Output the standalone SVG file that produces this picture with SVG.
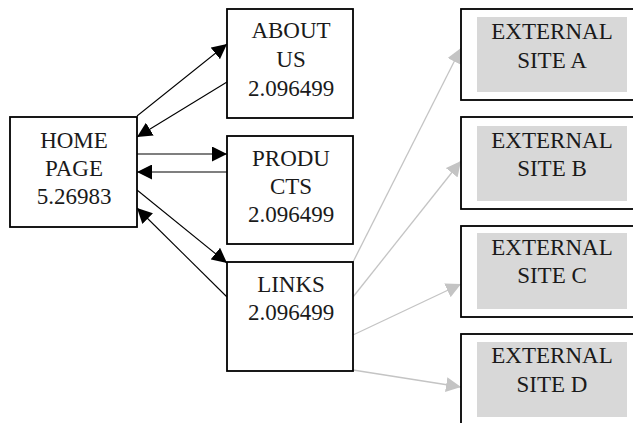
<svg xmlns="http://www.w3.org/2000/svg" width="633" height="423" viewBox="0 0 633 423">
<style>
.box{fill:#fff;stroke:#000;stroke-width:1.8}
.inner{fill:#d8d8d8;stroke:none}
.t{font-family:'Liberation Serif','DejaVu Serif',serif;font-size:23px;fill:#1a1a1a;text-anchor:middle}
.e{fill:none;stroke:#000;stroke-width:1.1}
.g{fill:none;stroke:#c4c4c4;stroke-width:1.3}
</style>
<defs>
<marker id="ab" viewBox="0 0 15 15" refX="15" refY="7.5" markerWidth="15" markerHeight="15" orient="auto" markerUnits="userSpaceOnUse"><path d="M0,0 L15,7.5 L0,15 z" fill="#000"/></marker>
<marker id="ag" viewBox="0 0 15 15" refX="15" refY="7.5" markerWidth="15" markerHeight="15" orient="auto" markerUnits="userSpaceOnUse"><path d="M0,0 L15,7.5 L0,15 z" fill="#c4c4c4"/></marker>
</defs>
<rect width="633" height="423" fill="#fff"/>
<g id="edges">
<path class="e" d="M137,116 L227,44" marker-end="url(#ab)"/>
<path class="e" d="M227,82 L137,137" marker-end="url(#ab)"/>
<path class="e" d="M137,154 L227,154" marker-end="url(#ab)"/>
<path class="e" d="M227,172 L137,172" marker-end="url(#ab)"/>
<path class="e" d="M137,190 L227,263" marker-end="url(#ab)"/>
<path class="e" d="M227,297 L137,208" marker-end="url(#ab)"/>
<path class="g" d="M353,262 L461,48" marker-end="url(#ag)"/>
<path class="g" d="M353,297 L461,161" marker-end="url(#ag)"/>
<path class="g" d="M353,335 L461,284" marker-end="url(#ag)"/>
<path class="g" d="M353,370 L461,387" marker-end="url(#ag)"/>
</g>
<g id="home">
<rect class="box" x="10" y="117" width="127" height="110"/>
<text class="t" x="74" y="148">HOME</text>
<text class="t" x="74" y="176">PAGE</text>
<text class="t" x="74" y="204">5.26983</text>
</g>
<g id="about">
<rect class="box" x="227" y="9" width="126" height="109"/>
<text class="t" x="291" y="38">ABOUT</text>
<text class="t" x="291" y="67">US</text>
<text class="t" x="291" y="96">2.096499</text>
</g>
<g id="products">
<rect class="box" x="227" y="136" width="126" height="108"/>
<text class="t" x="291" y="166">PRODU</text>
<text class="t" x="291" y="194">CTS</text>
<text class="t" x="291" y="222">2.096499</text>
</g>
<g id="links">
<rect class="box" x="227" y="262" width="126" height="109"/>
<text class="t" x="291" y="292">LINKS</text>
<text class="t" x="291" y="320">2.096499</text>
</g>
<g id="extA">
<rect class="box" x="461" y="9" width="200" height="91"/>
<rect class="inner" x="477" y="17" width="150" height="75"/>
<text class="t" x="552" y="39">EXTERNAL</text>
<text class="t" x="552" y="68">SITE A</text>
</g>
<g id="extB">
<rect class="box" x="461" y="117" width="200" height="92"/>
<rect class="inner" x="477" y="126" width="150" height="75"/>
<text class="t" x="552" y="148">EXTERNAL</text>
<text class="t" x="552" y="176">SITE B</text>
</g>
<g id="extC">
<rect class="box" x="461" y="226" width="200" height="91"/>
<rect class="inner" x="477" y="233" width="150" height="76"/>
<text class="t" x="552" y="255">EXTERNAL</text>
<text class="t" x="552" y="283">SITE C</text>
</g>
<g id="extD">
<rect class="box" x="461" y="334" width="200" height="120"/>
<rect class="inner" x="477" y="342" width="150" height="75"/>
<text class="t" x="552" y="363">EXTERNAL</text>
<text class="t" x="552" y="392">SITE D</text>
</g>
</svg>
